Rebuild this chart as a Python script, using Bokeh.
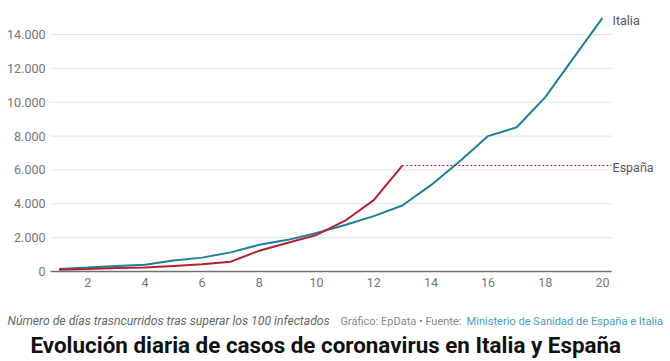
from bokeh.plotting import figure
from bokeh.models import Label, Range1d, FixedTicker, ColumnDataSource
from bokeh.core.properties import value
from bokeh.embed import file_html
from bokeh.resources import INLINE

# ---- data ----
italia_days = list(range(1, 21))
italia_cases = [150, 230, 320, 400, 650, 820, 1130, 1580, 1870, 2270,
                2750, 3270, 3900, 5100, 6500, 8000, 8520, 10300, 12650, 14980]
espana_days = list(range(1, 14))
espana_cases = [110, 150, 200, 230, 330, 430, 580, 1230, 1700, 2160,
                3000, 4220, 6260]
x_ticks = [2, 4, 6, 8, 10, 12, 14, 16, 18, 20]
y_ticks = [0, 2000, 4000, 6000, 8000, 10000, 12000, 14000]
y_tick_labels = ["0", "2.000", "4.000", "6.000", "8.000", "10.000", "12.000", "14.000"]

title_text = "Evolución diaria de casos de coronavirus en Italia y España"
note_text = "Número de días trasncurridos tras superar los 100 infectados"
credit_text = "Gráfico: EpData • Fuente:"
source_text = "Ministerio de Sanidad de España e Italia"

BLUE = "#1c7f9f"
RED = "#b3222b"
GREY = "#757575"

W = 668
X_START, X_AXIS_END, X_END = 0.699, 20.315, 22.307

p = figure(width=W, height=298, output_backend="svg", toolbar_location=None,
           x_range=Range1d(X_START, X_END), y_range=Range1d(0, 15420),
           min_border_left=50, min_border_right=0, min_border_top=10,
           min_border_bottom=27)
p.outline_line_color = None
p.background_fill_color = "white"
p.border_fill_color = "white"

p.xgrid.grid_line_color = None
p.ygrid.grid_line_color = None
# horizontal grid lines that stop at the end of the x axis
p.segment(x0=[X_START] * len(y_ticks), y0=y_ticks,
          x1=[X_AXIS_END] * len(y_ticks), y1=y_ticks,
          line_color="#e2e2e2", line_width=1)

p.xaxis.ticker = FixedTicker(ticks=x_ticks)
p.yaxis.ticker = FixedTicker(ticks=y_ticks)
p.yaxis.major_label_overrides = {t: l for t, l in zip(y_ticks, y_tick_labels)}
for ax in (p.xaxis, p.yaxis):
    ax.major_tick_line_color = None
    ax.minor_tick_line_color = None
    ax.major_tick_out = 0
    ax.major_tick_in = 0
    ax.minor_tick_out = 0
    ax.major_label_text_font = "Roboto"
    ax.major_label_text_font_size = "12.5px"
    ax.major_label_text_color = GREY
p.yaxis.axis_line_color = None
p.yaxis.major_label_standoff = 5
p.xaxis.axis_line_color = "#707070"
p.xaxis.axis_line_width = 1.5
p.xaxis.bounds = (X_START, X_AXIS_END)
p.xaxis.major_label_standoff = 6

src_it = ColumnDataSource(dict(x=italia_days, y=italia_cases))
src_es = ColumnDataSource(dict(x=espana_days, y=espana_cases))
p.line("x", "y", source=src_it, line_color=BLUE, line_width=2)
p.line("x", "y", source=src_es, line_color=RED, line_width=2)

# dotted continuation of the Spanish line
p.segment(x0=[espana_days[-1]], y0=[espana_cases[-1]],
          x1=[X_AXIS_END], y1=[espana_cases[-1]],
          line_color=RED, line_width=1, line_dash="2 2")

p.add_layout(Label(x=italia_days[-1], y=italia_cases[-1], text="Italia",
                   x_offset=10, y_offset=-3, text_baseline="middle",
                   text_font="Roboto", text_font_size="12.5px",
                   text_color="#555555"))
p.add_layout(Label(x=X_AXIS_END, y=espana_cases[-1], text="España",
                   x_offset=1, y_offset=-2, text_baseline="middle",
                   text_font="Roboto", text_font_size="12.5px",
                   text_color="#555555"))

# ---- footnote and title (separate root, pixel coordinates) ----
QH = 62
q = figure(width=W, height=QH, output_backend="svg", toolbar_location=None,
           x_range=Range1d(0, W), y_range=Range1d(0, QH),
           min_border_left=0, min_border_right=0, min_border_top=0,
           min_border_bottom=0)
q.axis.visible = False
q.grid.visible = False
q.outline_line_color = None
q.text(x=[7], y=[QH - 29], text=[note_text], text_font=value("Roboto"),
       text_font_style="italic", text_font_size="12.2px", text_color="#666666")
q.text(x=[340], y=[QH - 29], text=[credit_text], text_font=value("Roboto"),
       text_font_size="11px", text_color="#888888")
q.text(x=[466], y=[QH - 29], text=[source_text], text_font=value("Roboto"),
       text_font_size="11.1px", text_color="#4a9cc0")
q.text(x=[30], y=[QH - 59], text=[title_text], text_font=value("Roboto"),
       text_font_style="bold", text_font_size="22.4px", text_color="#111111")

open("out.html", "w").write(file_html([p, q], INLINE))
